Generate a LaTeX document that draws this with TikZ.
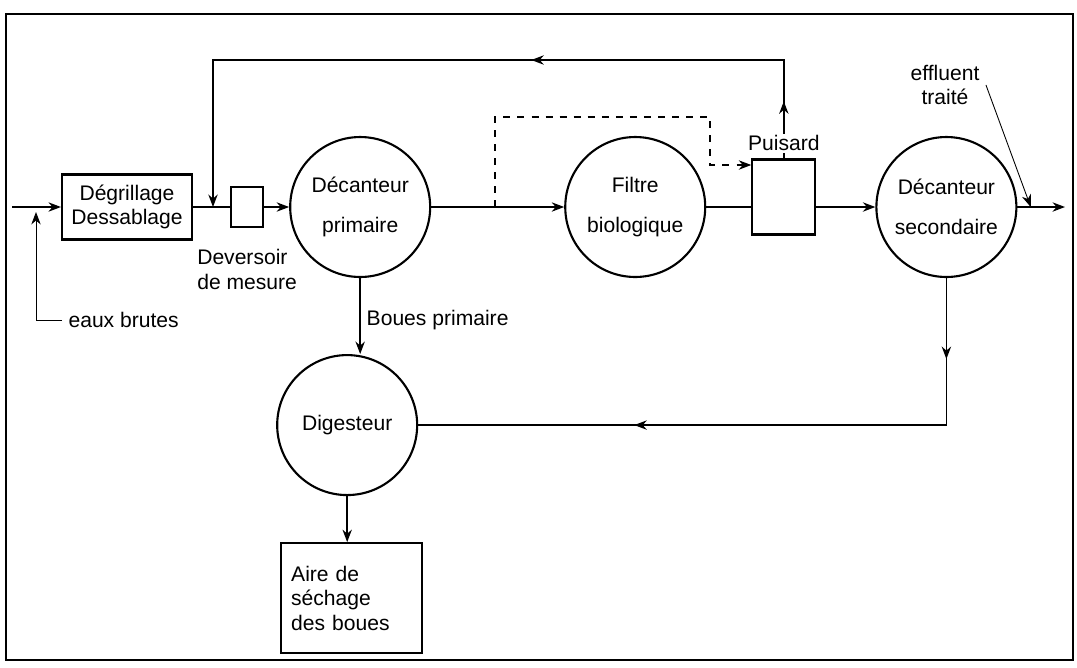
\documentclass[tikz,border=0pt]{standalone}
\usepackage{fontspec}
\setmainfont{Liberation Sans}
\usetikzlibrary{arrows.meta,positioning,decorations.markings}

\begin{document}
\begin{tikzpicture}[
    x=0.02cm, y=-0.02cm,
    font=\fontsize{12}{14}\selectfont,
    line width=0.8pt,
    unit/.style={draw, line width=1.2pt, align=center},
    tank/.style={unit, circle, minimum size=2.8cm, inner sep=0pt},
    flow/.style={-{Stealth[length=2.5mm]}},
    twoarrows/.style 2 args={postaction={decorate}, decoration={markings,
        mark=at position #1 with {\arrow{Stealth[length=2.5mm]}},
        mark=at position #2 with {\arrow{Stealth[length=2.5mm]}}}}
]
\useasboundingbox (0,0) rectangle (1077,667);
\draw[line width=1pt] (6,14) rectangle (1073,660);

% main line
\node[unit, minimum width=2.6cm, minimum height=1.3cm] (degril) at (127,207) {Dégrillage\\Dessablage};
\node[unit, minimum width=0.64cm, minimum height=0.8cm, right=0.74cm of degril] (devers) {};
\node[tank, right=0.5cm of devers] (decprim) {Décanteur\\[3mm]primaire};
\node[tank, right=2.66cm of decprim] (filtre) {Filtre\\[3mm]biologique};
\node[unit, minimum width=1.26cm, minimum height=1.5cm, right=0.9cm of filtre, yshift=0.2cm] (puisard) {};
\node[tank, right=1.18cm of puisard, yshift=-0.2cm] (decsec) {Décanteur\\[3mm]secondaire};

% sludge line
\node[tank, below=1.52cm of decprim, xshift=-0.26cm] (digest) {Digesteur};
\node[unit, minimum width=2.82cm, minimum height=2.2cm, text width=2.4cm, align=left, below=0.92cm of digest, xshift=0.08cm] (aire) {Aire de\\séchage\\des boues};

\coordinate (inlet) at (12,207);
\coordinate (outlet) at (1065,0 |- decsec.east);
\coordinate (loopR) at (puisard.north |- 0,60);
\coordinate (loopL) at (213,60);
\coordinate (retcorner) at (decsec.south |- digest.east);
\coordinate (dsplit) at (decprim.east -| 495,0);
\coordinate (dtopL) at (495,117);
\coordinate (dtopR) at (710,117);
\coordinate (ddrop) at (710,165);

\draw[flow] (inlet) -- (degril.west);
\draw (degril.east) -- (devers.west);
\draw[flow] (devers.east) -- (decprim.west);
\draw[flow] (decprim.east) -- (filtre.west);
\draw (filtre.east) -- (filtre.east -| puisard.west);
\draw[flow] (puisard.east |- decsec.west) -- (decsec.west);
\draw[flow] (decsec.east) -- (outlet);
\draw[flow] (decprim.south) -- (decprim.south |- digest.north);
\draw[flow] (digest.south) -- (digest.south |- aire.north);

% recirculations
\draw[flow, twoarrows={0.07}{0.43}] (puisard.north) -- (loopR) -- (loopL) -- (loopL |- degril.east);
\draw[twoarrows={0.12}{0.68}] (decsec.south) -- (retcorner) -- (digest.east);
\draw[flow, dashed, dash pattern=on 4pt off 4pt] (dsplit) -- (dtopL) -- (dtopR) -- (ddrop) -- (ddrop -| puisard.west);

% labels
\node[align=left, below=0.3cm of devers] (deverslbl) {Deversoir\\de mesure};
\node[fill=white, inner sep=1pt, above=1mm of puisard] (puislbl) {Puisard};
\path (decprim.south) -- (decprim.south |- digest.north) node[pos=0.55, right] (bouesp) {Boues primaire};
\node[anchor=west] (eaux) at (62,320) {eaux brutes};
\coordinate (eauxtip) at (36,212);
\draw[flow, line width=0.5pt] (eaux.west) -| (eauxtip);
\node[align=center] (effl) at (945,85) {effluent\\traité};
\path (decsec.east) -- (outlet) coordinate[pos=0.28] (efftip);
\draw[flow, line width=0.5pt] (effl.east) -- (efftip);
\end{tikzpicture}
\end{document}
